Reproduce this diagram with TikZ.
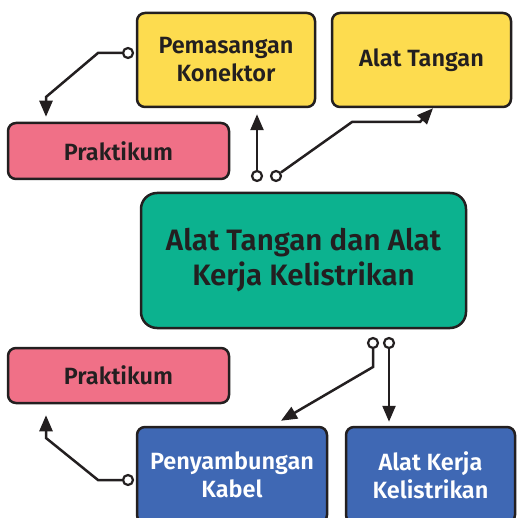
\documentclass[tikz,border=0pt]{standalone}
\usepackage{fontspec}
\setmainfont{Fira Sans}[BoldFont={Fira Sans SemiBold}]
\usetikzlibrary{arrows.meta}
\definecolor{garis}{HTML}{231F20}
\definecolor{kuning}{HTML}{FDDC4F}
\definecolor{merah}{HTML}{F07087}
\definecolor{hijau}{HTML}{0CB28F}
\definecolor{biru}{HTML}{3F68B4}
\begin{document}
\begin{tikzpicture}[x=1pt,y=-1pt,
  kotak/.style={draw=garis,line width=2.5pt,rounded corners=8pt,align=center,
    font=\bfseries\fontsize{23.5}{28}\selectfont,text=garis,inner sep=0pt},
  port/.style={circle,draw=garis,fill=white,line width=2.2pt,inner sep=0pt,minimum size=10pt},
  link/.style={draw=garis,line width=2.5pt,-{Triangle[length=16pt,width=13pt]}}]
  \useasboundingbox (0,0) rectangle (516,518);
  % kotak atas
  \node[kotak,fill=kuning,minimum width=178pt,minimum height=94pt] (konektor) at (226,60) {Pemasangan\\Konektor};
  \node[kotak,fill=kuning,minimum width=179pt,minimum height=94pt] (tangan) at (421.5,60) {Alat Tangan};
  \node[kotak,fill=merah,minimum width=221pt,minimum height=56pt] (prak1) at (118.5,151) {Praktikum};
  % kotak tengah
  \node[kotak,fill=hijau,minimum width=325pt,minimum height=135pt,
    font=\bfseries\fontsize{29.5}{35}\selectfont,rounded corners=16pt] (pusat) at (303.5,260.5) {Alat Tangan dan Alat\\Kerja Kelistrikan};
  % kotak bawah
  \node[kotak,fill=merah,minimum width=221pt,minimum height=55pt] (prak2) at (118.5,375.5) {Praktikum};
  \node[kotak,fill=biru,text=white,minimum width=190pt,minimum height=96pt] (kabel) at (232,475) {Penyambungan\\Kabel};
  \node[kotak,fill=biru,text=white,minimum width=169pt,minimum height=96pt] (kerja) at (430.5,475) {Alat Kerja\\Kelistrikan};
  % titik sambung
  \node[port] (kp1) at (128,53) {};
  \node[port] (tp1) at (257,176) {};
  \node[port] (tp2) at (276,176) {};
  \node[port] (bp1) at (373,343) {};
  \node[port] (bp2) at (389,343) {};
  \node[port] (kp2) at (128,480) {};
  % panah
  \draw[link] (kp1) -- ++(-30,0) -- ++(-52,44) -- ([xshift=-72.5pt,yshift=5pt]prak1.north);
  \draw[link] (tp1) -- ([xshift=31pt,yshift=-6pt]konektor.south);
  \draw[link] (tp2) -- (352,122) -- (420,122) -- ([xshift=11.5pt]tangan.south);
  \draw[link] (bp1) -- ++(0,24) -- ([xshift=49pt,yshift=5pt]kabel.north);
  \draw[link] (bp2) -- ([xshift=-41.5pt,yshift=4pt]kerja.north);
  \draw[link] (kp2) -- ++(-30,0) -- ++(-52,-42) -- ([xshift=-72.5pt,yshift=-11pt]prak2.south);
\end{tikzpicture}
\end{document}
